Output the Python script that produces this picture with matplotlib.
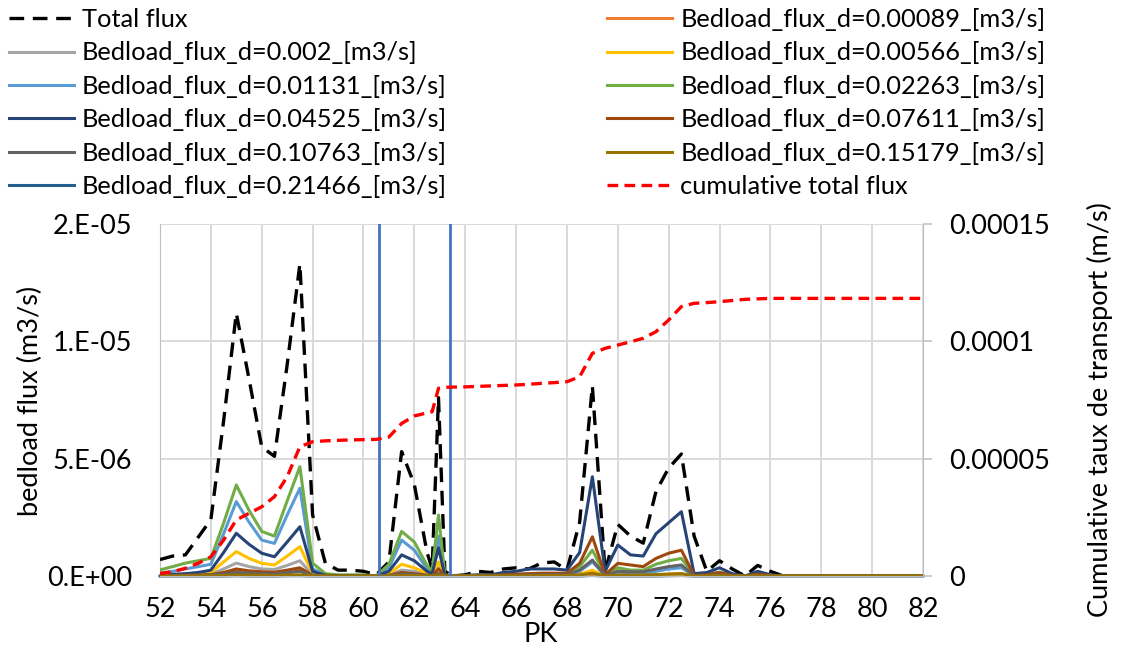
import math

import matplotlib
matplotlib.use('Agg')
import matplotlib.pyplot as plt
import numpy as np
from matplotlib.ticker import FuncFormatter

plt.rcParams['font.family'] = ['Lato', 'DejaVu Sans']

# PK stations
pk = [52, 52.5, 53, 53.5, 54, 54.5, 55, 55.5, 56, 56.5,
      57, 57.5, 58, 58.5, 59, 59.5, 60, 60.5, 61, 61.5,
      62, 62.5, 62.7, 62.95, 63.2, 63.5, 64, 64.5, 65, 65.5,
      66, 66.5, 67, 67.5, 68, 68.5, 69, 69.5, 70, 70.5,
      71, 71.5, 72, 72.5, 73, 73.5, 74, 74.5, 75, 75.5,
      76, 76.5, 77, 78, 79, 80, 81, 82]

# Total flux (x1e-6 m3/s)
total_flux = [0.7, 0.85, 0.9, 1.65, 2.4, 6.6, 11.2, 8.4, 5.5, 5.1,
              9.0, 13.3, 2.6, 0.55, 0.25, 0.25, 0.2, 0.05, 0.6, 5.3,
              3.9, 1.0, 0.3, 7.6, 0.2, 0.0, 0.05, 0.2, 0.15, 0.3,
              0.35, 0.3, 0.55, 0.6, 0.25, 2.3, 8.1, 0.2, 2.2, 1.7,
              1.4, 3.6, 4.6, 5.2, 1.7, 0.2, 0.65, 0.3, 0.0, 0.45,
              0.2, 0.0, 0, 0, 0, 0, 0, 0]

# Cumulative total flux (x1e-5 m/s), right axis
cumulative_flux = [0.11, 0.18, 0.33, 0.54, 0.82, 1.53, 2.39, 2.67, 2.95, 3.38,
                   4.23, 5.51, 5.72, 5.76, 5.78, 5.80, 5.81, 5.82, 5.92, 6.50,
                   6.82, 6.95, 7.0, 8.0, 8.04, 8.05, 8.06, 8.08, 8.10, 8.12,
                   8.14, 8.17, 8.21, 8.24, 8.28, 8.49, 9.49, 9.70, 9.84, 9.98,
                   10.13, 10.41, 10.91, 11.48, 11.62, 11.65, 11.69, 11.74, 11.79, 11.81,
                   11.83, 11.83, 11.83, 11.83, 11.83, 11.83, 11.83, 11.83]

# Bedload flux per grain diameter (x1e-6 m3/s)
flux_d00089 = [0.01, 0.01, 0.02, 0.03, 0.04, 0.12, 0.2, 0.15, 0.11, 0.1,
               0.17, 0.25, 0.02, 0, 0, 0, 0, 0, 0.02, 0.1,
               0.08, 0.02, 0.01, 0.12, 0, 0, 0, 0, 0, 0,
               0, 0, 0, 0, 0, 0.01, 0.03, 0, 0.01, 0.01,
               0.01, 0.01, 0.02, 0.02, 0, 0, 0, 0, 0, 0,
               0, 0, 0, 0, 0, 0, 0, 0]
flux_d0002 = [0.02, 0.03, 0.04, 0.06, 0.08, 0.3, 0.55, 0.4, 0.3, 0.28,
              0.45, 0.65, 0.05, 0.01, 0, 0, 0, 0, 0.05, 0.25,
              0.2, 0.06, 0.03, 0.35, 0, 0, 0, 0, 0, 0,
              0, 0.01, 0.01, 0.01, 0.01, 0.03, 0.1, 0, 0.02, 0.02,
              0.02, 0.03, 0.04, 0.05, 0, 0, 0.01, 0, 0, 0,
              0, 0, 0, 0, 0, 0, 0, 0]
flux_d00566 = [0.03, 0.05, 0.07, 0.1, 0.15, 0.6, 1.04, 0.75, 0.54, 0.47,
               0.85, 1.25, 0.1, 0.01, 0.01, 0.01, 0.01, 0.0, 0.1, 0.5,
               0.35, 0.12, 0.05, 0.6, 0.01, 0, 0, 0.01, 0.01, 0.01,
               0.01, 0.02, 0.02, 0.02, 0.02, 0.08, 0.25, 0.01, 0.05, 0.04,
               0.04, 0.06, 0.08, 0.1, 0.01, 0.01, 0.02, 0.01, 0, 0.01,
               0, 0, 0, 0, 0, 0, 0, 0]
flux_d01131 = [0.12, 0.2, 0.3, 0.4, 0.5, 1.8, 3.17, 2.3, 1.53, 1.39,
               2.6, 3.74, 0.3, 0.05, 0.02, 0.02, 0.02, 0.0, 0.35, 1.53,
               1.1, 0.3, 0.15, 1.7, 0.03, 0, 0.01, 0.02, 0.02, 0.03,
               0.04, 0.05, 0.06, 0.06, 0.05, 0.2, 0.6, 0.03, 0.15, 0.1,
               0.1, 0.2, 0.3, 0.35, 0.02, 0.03, 0.05, 0.02, 0, 0.02,
               0.01, 0, 0, 0, 0, 0, 0, 0]
flux_d02263 = [0.26, 0.4, 0.55, 0.65, 0.75, 2.25, 3.88, 2.8, 1.9, 1.7,
               3.2, 4.66, 0.55, 0.1, 0.05, 0.05, 0.05, 0.0, 0.5, 1.9,
               1.45, 0.45, 0.2, 2.6, 0.05, 0.0, 0.02, 0.03, 0.03, 0.05,
               0.06, 0.08, 0.1, 0.1, 0.08, 0.4, 1.1, 0.05, 0.35, 0.25,
               0.25, 0.5, 0.65, 0.75, 0.05, 0.1, 0.15, 0.05, 0.0, 0.05,
               0.02, 0, 0, 0, 0, 0, 0, 0]
flux_d04525 = [0.05, 0.07, 0.1, 0.15, 0.25, 1.0, 1.82, 1.35, 0.97, 0.82,
               1.45, 2.1, 0.2, 0.03, 0.01, 0.01, 0.01, 0.0, 0.2, 0.9,
               0.65, 0.2, 0.1, 1.2, 0.02, 0.0, 0.02, 0.05, 0.05, 0.15,
               0.2, 0.3, 0.3, 0.3, 0.25, 1.0, 4.23, 0.2, 1.32, 0.9,
               0.85, 1.8, 2.27, 2.74, 0.1, 0.15, 0.35, 0.1, 0.0, 0.2,
               0.05, 0, 0, 0, 0, 0, 0, 0]
flux_d07611 = [0.01, 0.02, 0.03, 0.04, 0.06, 0.15, 0.3, 0.22, 0.18, 0.16,
               0.25, 0.35, 0.03, 0.0, 0, 0, 0, 0, 0.03, 0.15,
               0.1, 0.04, 0.02, 0.3, 0.01, 0, 0.01, 0.02, 0.03, 0.05,
               0.08, 0.1, 0.12, 0.12, 0.12, 0.54, 1.67, 0.05, 0.54, 0.47,
               0.4, 0.75, 0.97, 1.1, 0.03, 0.05, 0.15, 0.03, 0.0, 0.08,
               0.02, 0, 0, 0, 0, 0, 0, 0]
flux_d10763 = [0.01, 0.01, 0.02, 0.03, 0.04, 0.08, 0.15, 0.12, 0.1, 0.09,
               0.14, 0.2, 0.02, 0, 0, 0, 0, 0, 0.02, 0.08,
               0.06, 0.02, 0.01, 0.1, 0, 0, 0, 0.01, 0.01, 0.02,
               0.03, 0.04, 0.05, 0.05, 0.05, 0.25, 0.68, 0.02, 0.2, 0.18,
               0.18, 0.3, 0.4, 0.47, 0.01, 0.02, 0.05, 0.01, 0, 0.03,
               0.01, 0, 0, 0, 0, 0, 0, 0]
flux_d15179 = [0, 0, 0.01, 0.01, 0.01, 0.02, 0.04, 0.03, 0.03, 0.02,
               0.04, 0.05, 0.01, 0, 0, 0, 0, 0, 0, 0.02,
               0.02, 0.01, 0, 0.03, 0, 0, 0, 0, 0, 0.01,
               0.01, 0.01, 0.02, 0.02, 0.02, 0.05, 0.12, 0.01, 0.04, 0.04,
               0.04, 0.06, 0.08, 0.1, 0, 0.01, 0.02, 0, 0, 0.01,
               0, 0, 0, 0, 0, 0, 0, 0]
flux_d21466 = [0, 0, 0, 0, 0, 0, 0.01, 0, 0, 0,
               0.01, 0.01, 0, 0, 0, 0, 0, 0, 0, 0,
               0, 0, 0, 0, 0, 0, 0, 0, 0, 0,
               0, 0, 0, 0, 0, 0, 0.02, 0, 0, 0,
               0, 0, 0.01, 0.02, 0, 0, 0, 0, 0, 0,
               0, 0, 0, 0, 0, 0, 0, 0]

# Section boundaries drawn as vertical lines (PK)
section_bounds = [60.62, 63.4]

fractions = [
    ('0.00089', flux_d00089, '#ED7D31'),
    ('0.002', flux_d0002, '#A5A5A5'),
    ('0.00566', flux_d00566, '#FFC000'),
    ('0.01131', flux_d01131, '#5B9BD5'),
    ('0.02263', flux_d02263, '#70AD47'),
    ('0.04525', flux_d04525, '#264478'),
    ('0.07611', flux_d07611, '#9E480E'),
    ('0.10763', flux_d10763, '#636363'),
    ('0.15179', flux_d15179, '#997300'),
    ('0.21466', flux_d21466, '#255E91'),
]

FS = 19.5
LEG_FS = 18.3


def excel_sci(v, pos=None):
    # mimic Excel "0.E+00" format
    if v == 0:
        return '0.E+00'
    exp = int(math.floor(math.log10(abs(v))))
    mant = int(abs(v) / 10 ** exp + 0.5 + 1e-9)
    if mant == 10:
        mant, exp = 1, exp + 1
    return f'{mant}.E{exp:+03d}'


def plain(v, pos=None):
    return f'{v:.5f}'.rstrip('0').rstrip('.')


fig = plt.figure(figsize=(11.24, 6.5), dpi=100)
W, H = 1124, 650
ax = fig.add_axes([160 / W, 1 - 576 / H, 763 / W, 352 / H])
ax2 = ax.twinx()

x = np.array(pk)
lines = {}

# coarsest fraction first, unclipped so it sits along the axis
name, vals, col = fractions[-1]
lines[name], = ax.plot(x, np.array(vals) * 1e-6, color=col, lw=2.2,
                       clip_on=False, zorder=2,
                       label=f'Bedload_flux_d={name}_[m3/s]')

lines['total'], = ax.plot(x, np.array(total_flux) * 1e-6, color='black', lw=2.4,
                          dashes=(4.4, 2.6), zorder=3, label='Total flux')
for name, vals, col in fractions[:-1]:
    lines[name], = ax.plot(x, np.array(vals) * 1e-6, color=col, lw=2.2, zorder=4,
                           label=f'Bedload_flux_d={name}_[m3/s]')

for b in section_bounds:
    ax2.axvline(b, color='#4472C4', lw=2.0, zorder=1)

lines['cum'], = ax2.plot(x, np.array(cumulative_flux) * 1e-5, color='#FF0000', lw=2.4,
                         dashes=(3.2, 1.9), zorder=3, label='cumulative total flux')

ax.set_xlim(52, 82)
ax.set_ylim(0, 1.5e-5)
ax2.set_ylim(0, 1.5e-4)
ax.set_xticks(list(range(52, 83, 2)))
ax.set_yticks([0, 5e-6, 1e-5, 1.5e-5])
ax2.set_yticks([0, 5e-5, 1e-4, 1.5e-4])
ax.yaxis.set_major_formatter(FuncFormatter(excel_sci))
ax2.yaxis.set_major_formatter(FuncFormatter(plain))

ax.grid(True, color='#D9D9D9', lw=1.4)
ax.set_axisbelow(True)

for s in ['top', 'right']:
    ax.spines[s].set_visible(False)
ax.spines['left'].set_color('#BFBFBF')
ax.spines['bottom'].set_color('#BFBFBF')
for s in ['top', 'left', 'bottom']:
    ax2.spines[s].set_visible(False)
ax2.spines['right'].set_color('#BFBFBF')

ax.tick_params(axis='y', length=0, pad=20, labelsize=FS)
ax.tick_params(axis='x', length=0, pad=15, labelsize=FS)
ax2.tick_params(axis='y', length=6.5, color='#BFBFBF', width=1.1, pad=12, labelsize=FS)

fig.text(30 / W, 1 - 401 / H, 'bedload flux (m3/s)', rotation=90,
         ha='center', va='center', fontsize=FS)
fig.text(1100 / W, 1 - 410 / H, 'Cumulative taux de transport (m/s)', rotation=90,
         ha='center', va='center', fontsize=FS)
fig.text(541 / W, 1 - 634 / H, 'PK', ha='center', va='center', fontsize=FS)

order = ['total', '0.002', '0.01131', '0.04525', '0.10763', '0.21466',
         '0.00089', '0.00566', '0.02263', '0.07611', '0.15179', 'cum']
handles = [lines[k] for k in order]
fig.legend(handles, [h.get_label() for h in handles],
           loc='upper left', bbox_to_anchor=(9 / W, 1 - 8 / H), ncol=2,
           frameon=False, fontsize=LEG_FS, handlelength=2.56, handletextpad=0.31,
           labelspacing=0.41, columnspacing=6.3, borderpad=0, borderaxespad=0)

fig.savefig('out.png', dpi=100)
plt.close(fig)
